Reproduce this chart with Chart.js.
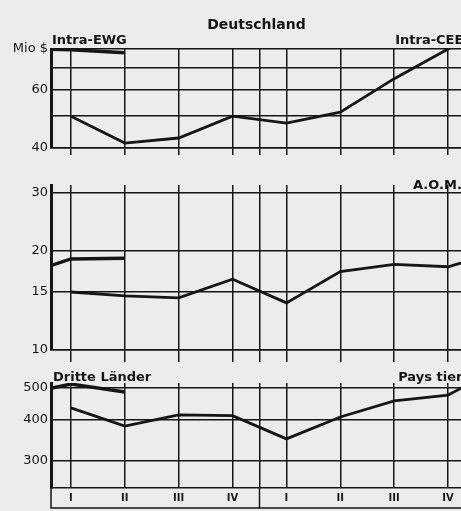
<!DOCTYPE html>
<html><head><meta charset="utf-8">
<script src="https://cdn.jsdelivr.net/npm/chart.js@4/dist/chart.umd.min.js"></script>
<style>
html,body{margin:0;padding:0;background:#ececec;width:461px;height:511px;overflow:hidden}
canvas{position:absolute;left:0}
</style></head><body>
<canvas id="c1" style="top:0px" width="461" height="160"></canvas>
<canvas id="c2" style="top:160px" width="461" height="205"></canvas>
<canvas id="c3" style="top:365px" width="461" height="146"></canvas>
<script>
// ---- data ----
const quarterLabels = ['I','II','III','IV','I','II','III','IV'];
const mainX = [0,1,2,3,4,5,6,7,8];      // quarter index (8 = beyond visible edge)
const prevX = [-1,0,1];                 // earlier thick line segment
const intraMain = [50, 41.4, 42.9, 50, 47.6, 51.4, 65, 80, 98];
const intraPrev = [80.2, 79.6, 77.9];
const aomMain   = [15, 14.6, 14.4, 16.4, 13.9, 17.3, 18.2, 17.9, 20];
const aomPrev   = [16.7, 18.9, 19.0];
const drittMain = [435, 383, 414, 412, 350, 408, 457, 476, 580];
const drittPrev = [475, 514, 486];
const topTicks = [40,50,60,70,80];      const topTickLabels = ['40','','60','','Mio $'];
const midTicks = [10,15,20,30];         const midTickLabels = ['10','15','20','30'];
const botTicks = [300,400,500];         const botTickLabels = ['300','400','500'];

const INK = '#151515';
const toPts = (xs, ys) => ys.map((y,i)=>({x:xs[i], y}));

function textPlugin(drawFn){
  return { id:'txt'+Math.random().toString(36).slice(2), afterDraw(chart){ const ctx=chart.ctx; ctx.save(); ctx.fillStyle=INK; drawFn(chart, ctx); ctx.restore(); } };
}

function makeChart(id, cfg){
  const xTicks = [0,1,2,3,3.5,4,5,6,7];
  return new Chart(document.getElementById(id), {
    type:'line',
    data:{ datasets:[
      {data: toPts(mainX, cfg.main), borderColor:INK, borderWidth:2.8, pointRadius:0, tension:0, fill:false},
      {data: toPts(prevX, cfg.prev), borderColor:INK, borderWidth:3.5, pointRadius:0, tension:0, fill:false}
    ]},
    options:{
      responsive:false, animation:false, events:[],
      layout:{padding:{top:cfg.padTop,left:0,right:0,bottom:0}},
      plugins:{legend:{display:false}, tooltip:{enabled:false}},
      scales:{
        x:{ type:'linear', min:-0.37, max:7.24,
            afterBuildTicks(s){ s.ticks = xTicks.map(v=>({value:v})); },
            afterFit(s){ s.height = cfg.xHeight; },
            grid:{ color:INK, lineWidth:1.5, drawTicks:cfg.tickLen>0, tickLength:cfg.tickLen },
            border:{ display:true, color:INK, width:1.5 },
            ticks:{ display:cfg.showX, autoSkip:false, maxRotation:0, padding:cfg.xPad||0, color:INK,
                    font:{family:'DejaVu Sans', weight:'bold', size:10},
                    callback:(v)=> Number.isInteger(v) ? quarterLabels[v] : '' } },
        y:{ type:'logarithmic', min:cfg.yMin, max:cfg.yMax,
            afterBuildTicks(s){ s.ticks = cfg.yTicks.map(v=>({value:v})); },
            afterFit(s){ s.width = 51; },
            grid:{ color:INK, lineWidth:1.5, drawTicks:false },
            border:{ display:true, color:INK, width:3 },
            ticks:{ padding:3, color:INK, font:{family:'DejaVu Sans', size:13},
                    callback:(v,i)=> cfg.yLabels[i] } }
      }
    },
    plugins:[textPlugin(cfg.draw)]
  });
}

makeChart('c1', { main:intraMain, prev:intraPrev, padTop:49, xHeight:12, tickLen:7, showX:false,
  yMin:40, yMax:80, yTicks:topTicks, yLabels:topTickLabels,
  draw(ch, ctx){
    const a = ch.chartArea, xs = ch.scales.x;
    ctx.font = 'bold 13px "DejaVu Sans"'; ctx.textBaseline='alphabetic'; ctx.textAlign='left';
    ctx.fillText('Intra-EWG', a.left+1, a.top-5);
    ctx.fillText('Intra-CEE', xs.getPixelForValue(6)+1, a.top-5);
    ctx.font = 'bold 14px "DejaVu Sans"'; ctx.textAlign='center';
    ctx.fillText('Deutschland', xs.getPixelForValue(3.5)-3, a.top-20);
  }});

makeChart('c2', { main:aomMain, prev:aomPrev, padTop:25, xHeight:15, tickLen:12, showX:false,
  yMin:10, yMax:31.7, yTicks:midTicks, yLabels:midTickLabels,
  draw(ch, ctx){
    const xs = ch.scales.x, ys = ch.scales.y;
    ctx.font = 'bold 13px "DejaVu Sans"'; ctx.textAlign='left'; ctx.textBaseline='alphabetic';
    ctx.fillText('A.O.M.', xs.getPixelForValue(6.35), ys.getPixelForValue(30)-4);
  }});

makeChart('c3', { main:drittMain, prev:drittPrev, padTop:18, xHeight:23, tickLen:0, showX:true, xPad:4,
  yMin:248, yMax:518, yTicks:botTicks, yLabels:botTickLabels,
  draw(ch, ctx){
    const a = ch.chartArea, xs = ch.scales.x;
    ctx.font = 'bold 13px "DejaVu Sans"'; ctx.textAlign='left'; ctx.textBaseline='alphabetic';
    ctx.fillText('Dritte Länder', a.left+2, a.top-2);
    ctx.fillText('Pays tiers', xs.getPixelForValue(6)+4, a.top-2);
    // label box below the bottom panel
    ctx.strokeStyle = INK; ctx.lineWidth = 1.5;
    const boxB = a.bottom + 20, sep = xs.getPixelForValue(3.5);
    ctx.beginPath();
    ctx.moveTo(a.left, a.bottom); ctx.lineTo(a.left, boxB); ctx.lineTo(a.right, boxB);
    ctx.moveTo(sep, a.bottom); ctx.lineTo(sep, boxB);
    ctx.stroke();
  }});
</script>
</body></html>
